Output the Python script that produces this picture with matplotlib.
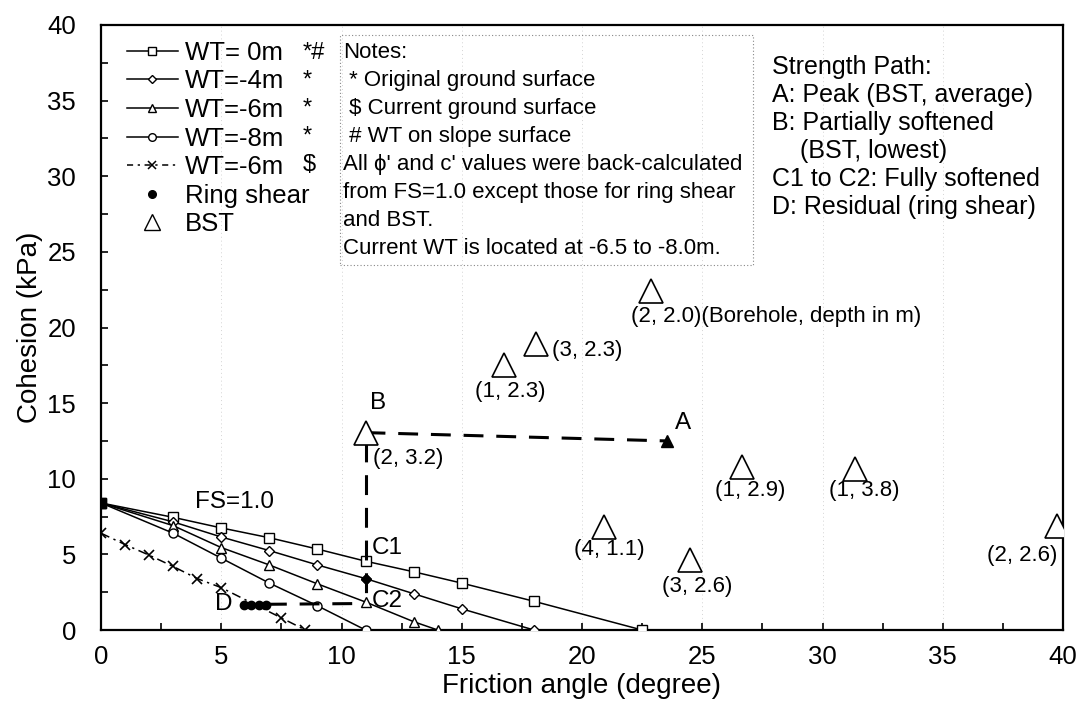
import matplotlib
matplotlib.use("Agg")
import matplotlib.pyplot as plt
from matplotlib.lines import Line2D
from matplotlib.patches import Rectangle

plt.rcParams['font.family'] = ['Liberation Sans', 'DejaVu Sans']

# ---------------- data ----------------
wt0_phi = [0, 3, 5, 7, 9, 11, 13, 15, 18, 22.5]
wt0_c = [8.4, 7.45, 6.75, 6.1, 5.35, 4.55, 3.85, 3.1, 1.9, 0]

wt4_phi = [0, 3, 5, 7, 9, 11, 13, 15, 18]
wt4_c = [8.4, 7.15, 6.15, 5.25, 4.3, 3.4, 2.4, 1.4, 0]

wt6_phi = [0, 3, 5, 7, 9, 11, 13, 14]
wt6_c = [8.4, 6.9, 5.45, 4.3, 3.05, 1.85, 0.55, 0]

wt8_phi = [0, 3, 5, 7, 9, 11]
wt8_c = [8.4, 6.4, 4.75, 3.1, 1.6, 0]

wt6s_phi = [0, 1, 2, 3, 4, 5, 7.5, 8.5]
wt6s_c = [6.4, 5.65, 4.95, 4.2, 3.4, 2.8, 0.8, 0]

ring_phi = [5.95, 6.25, 6.55, 6.85]
ring_c = [1.65, 1.65, 1.65, 1.65]

bst_phi = [11.0, 16.75, 18.1, 22.85, 20.9, 24.5, 26.65, 31.35, 39.75]
bst_c = [13.0, 17.5, 18.9, 22.4, 6.8, 4.65, 10.75, 10.65, 6.85]
bst_labels = ["(2, 3.2)", "(1, 2.3)", "(3, 2.3)", "(2, 2.0)(Borehole, depth in m)",
              "(4, 1.1)", "(3, 2.6)", "(1, 2.9)", "(1, 3.8)", "(2, 2.6)"]

# strength paths
path_ba_phi = [11.0, 23.55]
path_ba_c = [13.05, 12.5]
path_bc_phi = [11.0, 11.0]
path_bc_c = [12.4, 1.8]
path_dc_phi = [6.9, 10.85]
path_dc_c = [1.7, 1.75]
peak_a = (23.55, 12.5)

x_ticks = [0, 5, 10, 15, 20, 25, 30, 35, 40]
y_ticks = [0, 5, 10, 15, 20, 25, 30, 35, 40]

legend_labels = ["WT= 0m", "WT=-4m", "WT=-6m", "WT=-8m", "WT=-6m", "Ring shear", "BST"]
legend_flags = ["*#", "*", "*", "*", "$"]
notes_lines = ["Notes:", " * Original ground surface", " $ Current ground surface",
               " # WT on slope surface", "All \u03d5' and c' values were back-calculated",
               "from FS=1.0 except those for ring shear", "and BST.",
               "Current WT is located at -6.5 to -8.0m."]
path_lines = ["Strength Path:", "A: Peak (BST, average)", "B: Partially softened",
              "    (BST, lowest)", "C1 to C2: Fully softened", "D: Residual (ring shear)"]

# ---------------- figure ----------------
W, H = 1081, 725
fig = plt.figure(figsize=(W / 100, H / 100), dpi=100)
ax_l, ax_r, ax_t, ax_b = 101, 1063, 25, 630
ax = fig.add_axes([ax_l / W, (H - ax_b) / H, (ax_r - ax_l) / W, (ax_b - ax_t) / H])

ax.set_xlim(0, 40)
ax.set_ylim(0, 40)

for v in [5, 10, 15, 20, 25, 30, 35]:
    ax.axvline(v, color='#d4d4d4', lw=0.7, ls=(0, (1, 3)), zorder=0)

lw = 1.1
ax.plot(wt0_phi, wt0_c, '-', color='black', lw=lw, marker='s', ms=6.5,
        mfc='white', mec='black', mew=1.0, zorder=3)
ax.plot(wt4_phi, wt4_c, '-', color='black', lw=lw, marker='D', ms=4.8,
        mfc='white', mec='black', mew=1.0, zorder=3)
ax.plot(wt6_phi, wt6_c, '-', color='black', lw=lw, marker='^', ms=7,
        mfc='white', mec='black', mew=1.0, zorder=3)
ax.plot(wt8_phi, wt8_c, '-', color='black', lw=lw, marker='o', ms=6.5,
        mfc='white', mec='black', mew=1.0, zorder=3)
ax.plot(wt6s_phi, wt6s_c, color='black', lw=lw, dashes=(6, 3, 1.5, 3),
        marker='x', ms=7, mew=1.2, zorder=3)
ax.plot(wt4_phi[5], wt4_c[5], marker='D', ms=5.5, color='black', zorder=5)
ax.plot(wt0_phi[0], wt0_c[0], marker='s', ms=6.5, color='black', zorder=5)

dash = (6.5, 4.2)
ax.plot(path_ba_phi, path_ba_c, color='black', lw=2.2, dashes=dash, zorder=4)
ax.plot(path_bc_phi, path_bc_c, color='black', lw=2.2, dashes=dash, zorder=4)
ax.plot(path_dc_phi, path_dc_c, color='black', lw=2.2, dashes=dash, zorder=4)
ax.plot([peak_a[0]], [peak_a[1]], marker='^', ms=8, color='black', zorder=5)

ax.plot(ring_phi, ring_c, 'o', color='black', ms=6, zorder=5)
ax.plot(bst_phi, bst_c, '^', ms=17, mfc='white', mec='black', mew=1.2,
        ls='none', zorder=6)

lab_pos = [(11.3, 11.35, 'left'), (17.0, 15.8, 'center'), (18.75, 18.5, 'left'),
           (22.05, 20.7, 'left'), (21.15, 5.3, 'center'), (24.8, 2.85, 'center'),
           (27.0, 9.2, 'center'), (31.75, 9.2, 'center'), (38.3, 4.95, 'center')]
for (x, y, ha), t in zip(lab_pos, bst_labels):
    ax.text(x, y, t, fontsize=16, ha=ha, va='center', zorder=7)

big = 17.5
ax.text(11.5, 15.0, "B", fontsize=big, ha='center', va='center')
ax.text(24.2, 13.7, "A", fontsize=big, ha='center', va='center')
ax.text(11.25, 5.4, "C1", fontsize=big, ha='left', va='center')
ax.text(11.25, 1.95, "C2", fontsize=big, ha='left', va='center')
ax.text(5.1, 1.75, "D", fontsize=big, ha='center', va='center')
ax.text(3.9, 8.45, "FS=1.0", fontsize=big, ha='left', va='center')

# legend
handles = [
    Line2D([], [], color='black', lw=lw, marker='s', ms=5.5, mfc='white', mec='black'),
    Line2D([], [], color='black', lw=lw, marker='D', ms=4.2, mfc='white', mec='black'),
    Line2D([], [], color='black', lw=lw, marker='^', ms=6, mfc='white', mec='black'),
    Line2D([], [], color='black', lw=lw, marker='o', ms=5.5, mfc='white', mec='black'),
    Line2D([], [], color='black', lw=lw, dashes=(4, 3, 1.5, 3), marker='x', ms=6, mew=1.1),
    Line2D([], [], color='black', ls='none', marker='o', ms=5.5),
    Line2D([], [], color='black', ls='none', marker='^', ms=11, mfc='white', mec='black'),
]
leg = ax.legend(handles, legend_labels, loc='upper left', bbox_to_anchor=(0.0267, 0.974),
                frameon=False, fontsize=18.5, labelspacing=0.18, handlelength=2.0,
                handletextpad=0.26, borderpad=0, borderaxespad=0, numpoints=1)

row_y = [38.15 - 1.85 * i for i in range(8)]
for y, f in zip(row_y, legend_flags):
    ax.text(8.4, y, f, fontsize=17, ha='left', va='center')

for y, t in zip(row_y, notes_lines):
    ax.text(10.06, y, t, fontsize=16, ha='left', va='center', zorder=7)
ax.add_patch(Rectangle((9.94, 24.13), 17.16, 15.2, fill=False, ec='#888888',
                       lw=0.8, ls=(0, (1, 2)), zorder=2))

for i, t in enumerate(path_lines):
    ax.text(27.9, 37.2 - 1.85 * i, t, fontsize=18, ha='left', va='center')

# axes styling
ax.set_xticks(x_ticks)
ax.set_yticks(y_ticks)
ax.set_xticks([v + 2.5 for v in x_ticks[:-1]], minor=True)
ax.set_yticks([v + 2.5 for v in y_ticks[:-1]], minor=True)
ax.tick_params(which='both', direction='in', length=5, width=1.2, top=False, right=False)
ax.tick_params(axis='x', which='major', labelsize=18.5, pad=11)
ax.tick_params(axis='y', which='major', labelsize=18.5, pad=18)
for s in ax.spines.values():
    s.set_linewidth(1.6)
ax.set_xlabel("Friction angle (degree)", fontsize=20, labelpad=3)
ax.set_ylabel("Cohesion (kPa)", fontsize=20, labelpad=3)

fig.savefig("out.png", dpi=100)
